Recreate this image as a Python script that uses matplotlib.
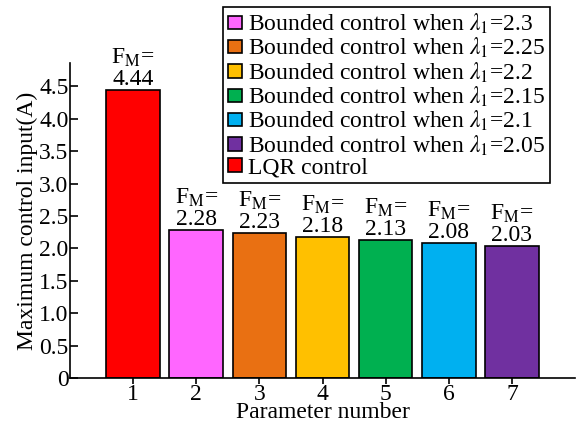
import numpy as np
import matplotlib.pyplot as plt
from matplotlib.patches import Patch

plt.rcParams['font.family'] = ['Liberation Serif', 'DejaVu Serif']
plt.rcParams['mathtext.fontset'] = 'stix'

# bar data
params = [1, 2, 3, 4, 5, 6, 7]
fm_values = [4.44, 2.28, 2.23, 2.18, 2.13, 2.08, 2.03]
bar_colors = ['#FF0000', '#FF66FF', '#E97012', '#FFC000', '#00B050', '#00B0F0', '#7030A0']
lambdas = ['2.3', '2.25', '2.2', '2.15', '2.1', '2.05']

fs = 17

fig = plt.figure(figsize=(5.88, 4.22), dpi=100)
ax = fig.add_axes([70 / 588, 1 - 378 / 422, 505 / 588, 315 / 422])

bars = ax.bar(params, fm_values, width=0.85, color=bar_colors,
              edgecolor='black', linewidth=1.2)

for b, v in zip(bars, fm_values):
    ax.annotate('F$_{\\rm M}$=\n%.2f' % v,
                xy=(b.get_x() + b.get_width() / 2, v),
                xytext=(0, 0), textcoords='offset points',
                ha='center', va='bottom', fontsize=fs, linespacing=1.0)

ax.set_xlim(0, 8)
ax.set_ylim(0, 4.86)
ax.set_xticks(params)
ax.set_yticks(np.arange(0, 4.51, 0.5))
ax.set_yticklabels(['0'] + ['%.1f' % t for t in np.arange(0.5, 4.51, 0.5)])
ax.tick_params(axis='y', direction='in', length=6, width=1.2, pad=1, labelsize=fs)
ax.tick_params(axis='x', direction='out', length=4, width=1.2, pad=0, labelsize=fs)
for s in ['top', 'right']:
    ax.spines[s].set_visible(False)
for s in ['left', 'bottom']:
    ax.spines[s].set_linewidth(1.2)

ax.set_xlabel('Parameter number', fontsize=fs, labelpad=-1.5)
ax.set_ylabel('Maximum control input(A)', fontsize=fs, labelpad=1)

# legend: bounded controls first, LQR last
handles = [Patch(facecolor=c, edgecolor='black', linewidth=1.2) for c in bar_colors[1:]]
labels = ['Bounded control when $\\lambda_1$=' + l for l in lambdas]
handles.append(Patch(facecolor=bar_colors[0], edgecolor='black', linewidth=1.2))
labels.append('LQR control')
leg = ax.legend(handles, labels, loc='upper right',
                bbox_to_anchor=(550 / 588, 1 - 7 / 422), bbox_transform=fig.transFigure,
                borderaxespad=0, fontsize=fs, fancybox=False, framealpha=1,
                handlelength=0.6, handleheight=0.5, handletextpad=0.25,
                labelspacing=0.0, borderpad=0.2)
leg.get_frame().set_edgecolor('black')
leg.get_frame().set_linewidth(1.2)

fig.savefig('out.png', dpi=100)
